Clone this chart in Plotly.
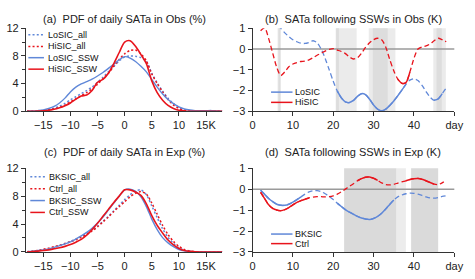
import plotly.graph_objects as go

W, H = 475, 279
FONT = "Liberation Sans, Arial, sans-serif"
BLUE = "#6088d8"
RED = "#e8141c"

# ---------------- data ----------------
pdf_x = list(range(-18, 19))
pdf_tickvals = [-15, -10, -5, 0, 5, 10, 15]
pdf_ticktext = ["\u221215", "\u221210", "\u22125", "0", "5", "10", "15K"]
pdf_yticks = [0, 4, 8, 12]

# panel (a) Obs PDFs (%)
a_lo_all = [0, 0.02, 0.05, 0.12, 0.25, 0.45, 0.75, 1.15, 1.65, 2.1, 2.55, 3.0, 3.5, 4.2, 4.9, 5.7, 6.5, 7.3, 7.85,
            8.0, 7.95, 7.75, 7.2, 5.5, 4.1, 2.9, 1.9, 1.1, 0.55, 0.25, 0.1, 0.04, 0.02, 0.01, 0, 0, 0]
a_hi_all = [0, 0.01, 0.04, 0.1, 0.2, 0.35, 0.55, 0.9, 1.35, 1.8, 2.25, 2.7, 3.2, 3.9, 4.7, 5.5, 6.5, 7.5, 8.3,
            8.8, 8.85, 8.3, 7.3, 5.4, 4.0, 2.8, 1.7, 0.9, 0.4, 0.15, 0.05, 0.01, 0, 0, 0, 0, 0]
a_lo_ssw = [0, 0.03, 0.1, 0.2, 0.4, 0.7, 1.2, 1.9, 2.8, 3.5, 3.95, 4.3, 4.65, 5.1, 5.6, 6.2, 6.8, 7.45, 7.9,
            7.7, 7.2, 6.5, 5.7, 4.6, 3.5, 2.5, 1.7, 1.1, 0.65, 0.35, 0.18, 0.1, 0.07, 0.08, 0.1, 0.05, 0.02]
a_hi_ssw = [0, 0, 0.03, 0.08, 0.15, 0.3, 0.5, 0.8, 1.2, 1.75, 2.2, 2.35, 3.0, 4.2, 4.6, 5.5, 6.9, 8.5, 10.0,
            10.2, 9.4, 8.2, 6.9, 4.4, 2.7, 1.6, 0.85, 0.4, 0.15, 0.05, 0, 0, 0, 0, 0, 0, 0]

# panel (c) Exp PDFs (%)
c_bk_all = [0.02, 0.08, 0.18, 0.3, 0.45, 0.65, 0.9, 1.2, 1.5, 1.85, 2.2, 2.6, 3.1, 3.7, 4.4, 5.1, 5.9, 6.7, 7.5,
            8.2, 8.7, 8.9, 8.2, 6.6, 4.9, 3.3, 2.1, 1.2, 0.6, 0.25, 0.1, 0.04, 0.01, 0, 0, 0, 0]
c_ct_all = [0.02, 0.1, 0.22, 0.38, 0.55, 0.75, 0.95, 1.2, 1.45, 1.75, 2.1, 2.5, 3.0, 3.6, 4.3, 5.0, 5.8, 6.5, 7.2,
            7.9, 8.4, 8.65, 8.3, 7.0, 5.4, 3.8, 2.5, 1.5, 0.8, 0.35, 0.12, 0.04, 0.01, 0, 0, 0, 0]
c_bk_ssw = [0.02, 0.1, 0.2, 0.3, 0.45, 0.65, 0.9, 1.15, 1.45, 1.85, 2.3, 2.8, 3.4, 4.15, 5.0, 6.0, 7.0, 8.0, 8.9,
            9.0, 8.7, 7.9, 6.5, 4.7, 3.2, 2.05, 1.3, 0.75, 0.35, 0.15, 0.06, 0.02, 0.01, 0, 0, 0, 0]
c_ct_ssw = [0, 0.05, 0.12, 0.2, 0.3, 0.45, 0.6, 0.8, 1.05, 1.4, 1.8, 2.4, 3.2, 4.1, 5.1, 6.1, 7.1, 8.0, 8.9,
            8.9, 8.6, 8.1, 6.9, 5.2, 3.8, 2.7, 1.7, 1.0, 0.5, 0.2, 0.08, 0.02, 0, 0, 0, 0, 0]

# SATa following SSWs (K)
days = list(range(2, 49))
day_tickvals = [0, 10, 20, 30, 40, 50]
day_ticktext = ["0", "10", "20", "30", "40", "day"]
sat_yticks = [1, 0, -1, -2, -3]

b_lo = [1.9, 1.8, 1.6, 1.4, 1.2, 1.0, 0.78, 0.6, 0.45,
        0.35, 0.28, 0.27, 0.32, 0.4, 0.3, 0.0, -0.45, -1.0, -1.55,
        -2.02, -2.35, -2.55, -2.58, -2.48, -2.28, -2.15, -2.2, -2.42, -2.7,
        -2.9, -2.98, -2.9, -2.72, -2.5, -2.25, -1.98, -1.7, -1.5, -1.43,
        -1.52, -1.75, -2.05, -2.32, -2.47, -2.4, -2.15, -1.88]
b_hi = [0.88, 1.02, 0.5, -0.2, -0.88, -1.28, -1.1, -0.85, -0.72,
        -0.65, -0.6, -0.58, -0.52, -0.42, -0.3, -0.2, -0.1, -0.02, 0.02,
        -0.05, -0.12, -0.22, -0.38, -0.48, -0.42, -0.2, 0.08, 0.3, 0.45,
        0.52, 0.45, 0.1, -0.5, -1.05, -1.45, -1.65, -1.62, -1.1, -0.45,
        0.0, 0.1, 0.15, 0.25, 0.4, 0.52, 0.45, 0.35]
d_bk = [-0.05, -0.25, -0.45, -0.6, -0.72, -0.77, -0.77, -0.72, -0.62,
        -0.5, -0.37, -0.24, -0.13, -0.08, -0.07, -0.12, -0.22, -0.35, -0.5,
        -0.67, -0.83, -0.98, -1.1, -1.2, -1.3, -1.38, -1.43, -1.45, -1.4,
        -1.3, -1.15, -0.95, -0.73, -0.52, -0.37, -0.28, -0.22, -0.19, -0.2,
        -0.24, -0.3, -0.37, -0.42, -0.43, -0.4, -0.35, -0.32]
d_ct = [-0.15, -0.45, -0.75, -0.92, -1.0, -1.03, -0.98, -0.88, -0.75,
        -0.63, -0.55, -0.48, -0.42, -0.38, -0.36, -0.36, -0.37, -0.36, -0.32,
        -0.24, -0.13, 0.0, 0.13, 0.26, 0.4, 0.5, 0.57, 0.58, 0.52,
        0.42, 0.3, 0.22, 0.2, 0.23, 0.29, 0.35, 0.4, 0.46, 0.5,
        0.51, 0.47, 0.4, 0.32, 0.24, 0.22, 0.3, 0.42]

# day ranges drawn solid (significant)
b_lo_solid = [(21, 38), (45, 47)]
b_hi_solid = [(36, 39)]
d_bk_solid = [(2, 12), (21, 35)]
d_ct_solid = [(2, 14), (26, 31), (38, 45)]

# shaded day intervals
b_shade_light = [(6.2, 7.0), (20.6, 25.8), (28.8, 35.4), (44.8, 47.9)]
b_shade_dark = [(6.4, 6.9), (20.7, 21.4), (29.8, 33.5), (45.6, 46.9)]
d_shade_light = [(35.7, 38.0)]
d_shade_dark = [(22.7, 35.7), (39.3, 46.0)]

# ---------------- figure ----------------
fig = go.Figure()

def masked(x, y, ranges):
    return [v if any(lo <= d <= hi for lo, hi in ranges) else None for d, v in zip(x, y)]

def add_line(x, y, color, dash, width, xa, ya):
    fig.add_trace(go.Scatter(x=x, y=y, mode="lines", xaxis=xa, yaxis=ya, showlegend=False,
                             hoverinfo="skip", connectgaps=False,
                             line=dict(color=color, dash=dash, width=width, shape="spline", smoothing=0.8)))

DOT = "2px,2.2px"
DASH = "5px,3px"

# (a)
add_line(pdf_x, a_lo_all, BLUE, DOT, 1.5, "x", "y")
add_line(pdf_x, a_hi_all, RED, DOT, 1.5, "x", "y")
add_line(pdf_x, a_lo_ssw, BLUE, "solid", 1.4, "x", "y")
add_line(pdf_x, a_hi_ssw, RED, "solid", 1.6, "x", "y")
# (c)
add_line(pdf_x, c_bk_all, BLUE, DOT, 1.5, "x3", "y3")
add_line(pdf_x, c_ct_all, RED, DOT, 1.5, "x3", "y3")
add_line(pdf_x, c_bk_ssw, BLUE, "solid", 1.4, "x3", "y3")
add_line(pdf_x, c_ct_ssw, RED, "solid", 1.6, "x3", "y3")
# (b)
add_line(days, b_lo, BLUE, DASH, 1.3, "x2", "y2")
add_line(days, b_hi, RED, DASH, 1.3, "x2", "y2")
add_line(days, masked(days, b_lo, b_lo_solid), BLUE, "solid", 1.5, "x2", "y2")
add_line(days, masked(days, b_hi, b_hi_solid), RED, "solid", 1.5, "x2", "y2")
# (d)
add_line(days, d_bk, BLUE, DASH, 1.3, "x4", "y4")
add_line(days, d_ct, RED, DASH, 1.3, "x4", "y4")
add_line(days, masked(days, d_bk, d_bk_solid), BLUE, "solid", 1.5, "x4", "y4")
add_line(days, masked(days, d_ct, d_ct_solid), RED, "solid", 1.5, "x4", "y4")

shapes = []
def shade(intervals, color, xa, ya):
    for lo, hi in intervals:
        shapes.append(dict(type="rect", xref=xa, yref=ya + " domain", x0=lo, x1=hi, y0=0, y1=1,
                           fillcolor=color, line=dict(width=0), layer="below"))

shade(b_shade_light, "#ebebeb", "x2", "y2")
shade(b_shade_dark, "#dddddd", "x2", "y2")
shade(d_shade_dark, "#dadada", "x4", "y4")
shade(d_shade_light, "#ececec", "x4", "y4")
for xa, ya in (("x2", "y2"), ("x4", "y4")):
    shapes.append(dict(type="line", xref=xa + " domain", yref=ya, x0=0, x1=1, y0=0, y1=0,
                       line=dict(color="#9a9a9a", width=1.5), layer="below"))

# manual legends (px positions)
annotations = []
def legend(entries, rows, x0, x1, xt):
    for (label, color, dash), ry in zip(entries, rows):
        yy = 1 - ry / H
        shapes.append(dict(type="line", xref="paper", yref="paper", x0=x0 / W, x1=x1 / W, y0=yy, y1=yy,
                           line=dict(color=color, dash=dash, width=1.5)))
        annotations.append(dict(text=label, xref="paper", yref="paper", x=xt / W, y=yy, xanchor="left",
                                yanchor="middle", showarrow=False, font=dict(size=9, family=FONT, color="#111")))

legend([("LoSIC_all", BLUE, DOT), ("HiSIC_all", RED, DOT), ("LoSIC_SSW", BLUE, "solid"), ("HiSIC_SSW", RED, "solid")],
       [30, 42.3, 54, 66], 26, 42, 44)
legend([("BKSIC_all", BLUE, DOT), ("Ctrl_all", RED, DOT), ("BKSIC_SSW", BLUE, "solid"), ("Ctrl_SSW", RED, "solid")],
       [178.3, 191, 203.3, 215.7], 28, 43, 45)
legend([("LoSIC", BLUE, "solid"), ("HiSIC", RED, "solid")], [90, 100.7], 275, 297, 298)
legend([("BKSIC", BLUE, "solid"), ("Ctrl", RED, "solid")], [238.3, 248.3], 275, 297, 298)

titles = [("(a)  PDF of daily SATa in Obs (%)", 124.5, 14),
          ("(b)  SATa following SSWs in Obs (K)", 359.5, 14),
          ("(c)  PDF of daily SATa in Exp (%)", 124.5, 152.3),
          ("(d)  SATa following SSWs in Exp (K)", 359.5, 152.3)]
for t, tx, ty in titles:
    annotations.append(dict(text=t, xref="paper", yref="paper", x=tx / W, y=1 - ty / H, xanchor="center",
                            yanchor="middle", showarrow=False, font=dict(size=11, family=FONT, color="#222")))

ax = dict(showline=True, linecolor="#333", linewidth=1, ticks="outside", ticklen=4, tickcolor="#333",
          tickwidth=1, showgrid=False, zeroline=False, fixedrange=True,
          tickfont=dict(size=11, family=FONT, color="#222"))

xa_dom = [23.5 / W, 225 / W]
xb_dom = [256 / W, 463 / W]
yt_dom = [1 - 110 / H, 1 - 23.3 / H]
yb_dom = [1 - 257 / H, 1 - 169.5 / H]

pdf_x_ax = dict(ax, range=[-18.2, 18], tickmode="array", tickvals=pdf_tickvals, ticktext=pdf_ticktext)
pdf_y_ax = dict(ax, range=[0, 12], tickmode="array", tickvals=pdf_yticks,
                minor=dict(tickmode="array", tickvals=[2, 6, 10], ticks="outside", ticklen=2.5, tickcolor="#333"))
day_x_ax = dict(ax, range=[0, 50], tickmode="array", tickvals=day_tickvals, ticktext=day_ticktext)
sat_y_ax = dict(ax, range=[-3, 1], tickmode="array", tickvals=sat_yticks)

fig.update_layout(
    width=W, height=H, margin=dict(l=0, r=0, t=0, b=0),
    paper_bgcolor="white", plot_bgcolor="white", showlegend=False,
    font=dict(family=FONT, size=11, color="#222"),
    xaxis=dict(pdf_x_ax, domain=xa_dom, anchor="y"),
    yaxis=dict(pdf_y_ax, domain=yt_dom, anchor="x"),
    xaxis2=dict(day_x_ax, domain=xb_dom, anchor="y2"),
    yaxis2=dict(sat_y_ax, domain=yt_dom, anchor="x2"),
    xaxis3=dict(pdf_x_ax, domain=xa_dom, anchor="y3"),
    yaxis3=dict(pdf_y_ax, domain=yb_dom, anchor="x3"),
    xaxis4=dict(day_x_ax, domain=xb_dom, anchor="y4"),
    yaxis4=dict(sat_y_ax, domain=yb_dom, anchor="x4"),
    shapes=shapes, annotations=annotations,
)

fig.write_html("out.html", config={"displayModeBar": False, "staticPlot": True},
               post_script="document.body.style.margin='0';document.body.style.overflow='hidden';")
